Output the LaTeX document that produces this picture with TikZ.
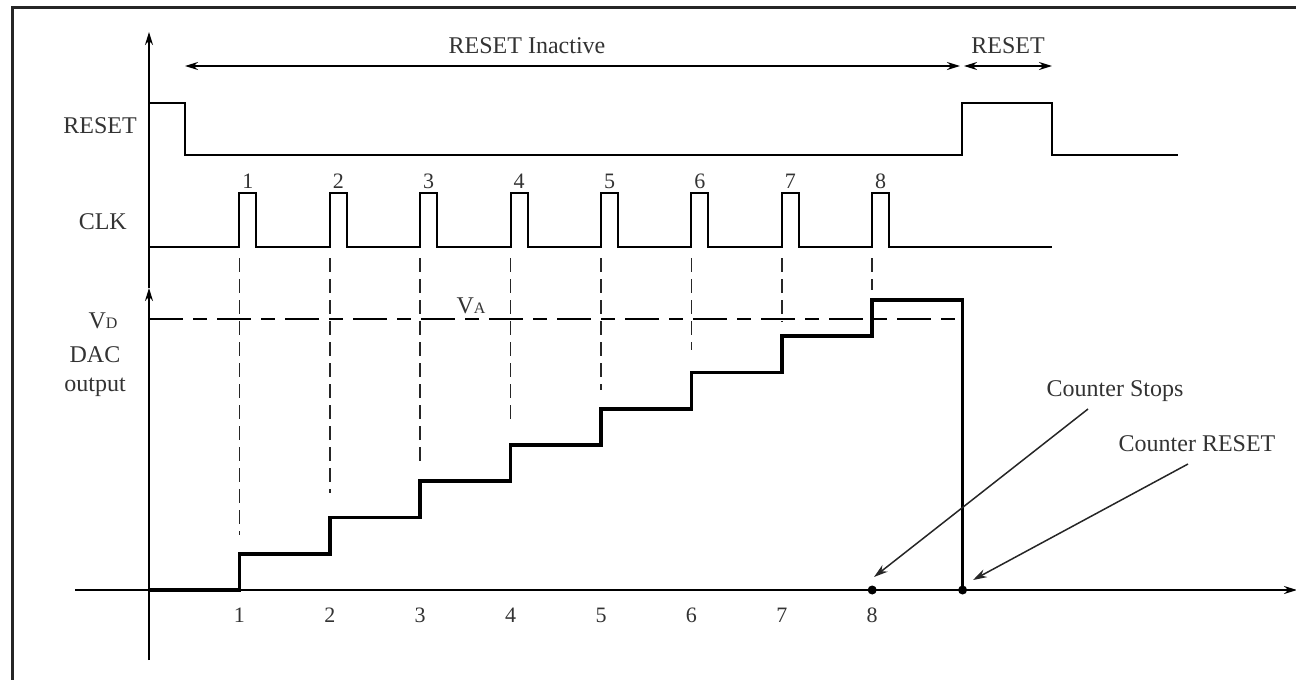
\documentclass[tikz,border=0pt]{standalone}
\usepackage{fontspec}
\setmainfont{Liberation Serif}
\usetikzlibrary{arrows.meta}

% small capital used for the V_D / V_A voltage names
\newcommand{\sublet}[1]{{\fontsize{16}{16}\selectfont #1}}

\begin{document}
\begin{tikzpicture}[x=1pt, y=-1pt,
  frameline/.style={line width=3.5pt, draw=black!85},
  axisline/.style={line width=1.9pt},
  sig/.style={line width=2pt, line join=miter},
  stair/.style={line width=3.6pt, line join=miter},
  guide/.style={line width=1.6pt, draw=black!85, dash pattern=on 14pt off 7pt},
  levelguide/.style={line width=1.6pt, dash pattern=on 34pt off 10pt on 14pt off 10pt},
  arrowed/.style={-{Stealth[length=13pt,width=8pt]}},
  twoway/.style={{Stealth[length=13pt,width=8pt]}-{Stealth[length=13pt,width=8pt]}},
  pointer/.style={line width=1.5pt, draw=black!85, -{Stealth[length=14pt,width=8.5pt]}},
  lbl/.style={font=\fontsize{24}{26}\selectfont, text=black!80, inner sep=0pt},
  num/.style={font=\fontsize{22}{23}\selectfont, text=black!80, inner sep=0pt},
  dot/.style={circle, fill=black, inner sep=0pt, minimum size=9pt}
]
\useasboundingbox (0,0) rectangle (1296,680);

% frame (top and left edges)
\draw[frameline] (12.5,682) -- (12.5,7.5) -- (1298,7.5);

% axes: the vertical one carries a second tip where the DAC scale starts
\coordinate (ybot) at (149,660);
\coordinate (ymid) at (149,288);
\coordinate (ytop) at (149,32);
\coordinate (xl) at (75,590);
\coordinate (xr) at (1297,590);
\draw[axisline, arrowed] (ybot) -- (ymid);
\draw[axisline, arrowed] (ymid) -- (ytop);
\draw[axisline, arrowed] (xl) -- (xr);

% interval arrows
\coordinate (ia) at (185,66);
\coordinate (ib) at (960,66);
\coordinate (ra) at (964,66);
\coordinate (rb) at (1052,66);
\draw[axisline, twoway] (ia) -- (ib);
\draw[axisline, twoway] (ra) -- (rb);
\node[lbl, anchor=base] (tinact) at (527,53) {RESET Inactive};
\node[lbl, anchor=base] (treset) at (1008,53) {RESET};

% RESET waveform
\draw[sig] (149,103) -- (185,103) -- (185,155) -- (962,155) -- (962,103)
  -- (1052,103) -- (1052,155) -- (1178,155);
\node[lbl, anchor=east] (lreset) at (137,126) {RESET};

% CLK waveform with numbered pulses
\draw[sig] (149,247)
  foreach \k in {1,...,8} { -- ({149+90.4*\k},247) -- ++(0,-54) -- ++(17,0) -- ++(0,54) }
  -- (1052,247);
\foreach \k in {1,...,8}
  \node[num, anchor=base] (p\k) at ({157.5+90.4*\k},188) {\k};
\node[lbl, anchor=east] (lclk) at (127,222) {CLK};

% guides from each clock edge down to the staircase
\foreach \k/\e in {1/535,2/493,3/463,4/423,5/390,6/350,7/322,8/290}
  \draw[guide] ({149+90.4*\k},258) -- ({149+90.4*\k},\e);

% analog input level
\draw[levelguide] (149,319) -- (962.6,319);
\node[lbl, anchor=base] (lva) at (471,313) {V\sublet{A}};

% DAC staircase output
\draw[stair] (149,590)
  foreach \k in {1,...,8} { -- ({149+90.4*\k},{590-36.25*(\k-1)}) -- ({149+90.4*\k},{590-36.25*\k}) }
  -- (962.6,300) -- (962.6,590);

\node[lbl, anchor=base] (lvd) at (103,328) {V\sublet{D}};
\node[lbl, anchor=base] (ldac) at (95,362) {DAC};
\node[lbl, anchor=base] (lout) at (95,391) {output};

% time axis numbers
\foreach \k in {1,...,8}
  \node[num, anchor=base] (t\k) at ({149+90.4*\k},622) {\k};

% counter events
\node[dot] (stop) at (872.2,590) {};
\node[dot] (rst) at (962.6,590) {};
\node[lbl, anchor=base] (lstop) at (1115,396) {Counter Stops};
\node[lbl, anchor=base] (lrst) at (1197,451) {Counter RESET};
\coordinate (s0) at (1088,409);
\coordinate (s1) at (874,577);
\coordinate (r0) at (1188,464);
\coordinate (r1) at (973,580);
\draw[pointer] (s0) -- (s1);
\draw[pointer] (r0) -- (r1);
\end{tikzpicture}
\end{document}
